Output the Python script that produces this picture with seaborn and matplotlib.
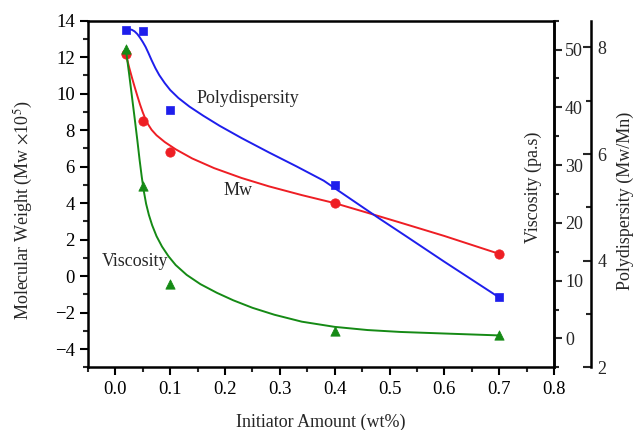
import matplotlib
matplotlib.use("Agg")
import matplotlib.pyplot as plt
from matplotlib.ticker import MultipleLocator
import seaborn as sns
import pandas as pd

# ---- data ----
initiator = [0.02, 0.05, 0.1, 0.4, 0.7]
mw_values = [12.16, 8.50, 6.79, 4.02, 1.21]
viscosity_values = [50.1, 26.4, 9.4, 1.26, 0.52]
poly_values = [8.32, 8.31, 6.83, 5.42, 3.31]

# fitted curves
mw_curve_x = [0.019, 0.025, 0.030, 0.035, 0.040, 0.045, 0.050, 0.055, 0.060, 0.066,
              0.075, 0.090, 0.110, 0.140, 0.180, 0.230, 0.280, 0.340, 0.400, 0.460,
              0.520, 0.600, 0.700]
mw_curve_y = [12.17, 11.45, 10.90, 10.38, 9.88, 9.40, 8.97, 8.60, 8.30, 8.02,
              7.72, 7.35, 6.95, 6.45, 5.92, 5.38, 4.92, 4.44, 4.00, 3.47,
              2.93, 2.20, 1.22]

visc_curve_x = [0.019, 0.025, 0.030, 0.035, 0.040, 0.044, 0.048, 0.052, 0.056, 0.061,
                0.067, 0.075, 0.085, 0.097, 0.110, 0.130, 0.155, 0.185, 0.215, 0.250,
                0.290, 0.340, 0.400, 0.460, 0.520, 0.600, 0.700]
visc_curve_y = [50.1, 45.8, 42.0, 38.2, 34.3, 31.0, 28.0, 25.4, 23.3, 21.4,
                19.6, 17.7, 15.9, 14.2, 12.7, 11.0, 9.4, 7.9, 6.6, 5.3,
                4.1, 2.9, 2.0, 1.45, 1.12, 0.85, 0.52]

poly_curve_x = [0.019, 0.025, 0.030, 0.035, 0.040, 0.045, 0.050, 0.055, 0.060, 0.066,
                0.073, 0.080, 0.090, 0.100, 0.115, 0.135, 0.160, 0.190, 0.230, 0.280,
                0.330, 0.380, 0.430, 0.480, 0.530, 0.600, 0.700]
poly_curve_y = [8.33, 8.34, 8.33, 8.30, 8.25, 8.18, 8.10, 8.01, 7.90, 7.76,
                7.61, 7.48, 7.33, 7.20, 7.05, 6.89, 6.72, 6.53, 6.30, 6.03,
                5.77, 5.50, 5.15, 4.80, 4.46, 3.98, 3.31]

x_ticks = [0.0, 0.1, 0.2, 0.3, 0.4, 0.5, 0.6, 0.7, 0.8]

RED = "#ee1e24"
BLUE = "#1e1eec"
GREEN = "#158a15"

sns.set_style("ticks")
plt.rcParams["font.family"] = ["Liberation Serif", "DejaVu Serif"]
plt.rcParams["mathtext.fontset"] = "stix"
plt.rcParams["axes.linewidth"] = 1.8

fig = plt.figure(figsize=(6.34, 4.30), dpi=100)
ax = fig.add_axes([0.1388, 0.1458, 0.735, 0.806])
ax2 = ax.twinx()
ax3 = ax.twinx()

pts = pd.DataFrame({"x": initiator, "mw": mw_values, "visc": viscosity_values, "poly": poly_values})
mwc = pd.DataFrame({"x": mw_curve_x, "y": mw_curve_y})
vc = pd.DataFrame({"x": visc_curve_x, "y": visc_curve_y})
pc = pd.DataFrame({"x": poly_curve_x, "y": poly_curve_y})

# Mw (left axis)
sns.lineplot(data=mwc, x="x", y="y", ax=ax, color=RED, lw=1.4, sort=False, estimator=None)
sns.scatterplot(data=pts, x="x", y="mw", ax=ax, color=RED, marker="o", s=45, edgecolor=RED, zorder=5)

# viscosity
sns.lineplot(data=vc, x="x", y="y", ax=ax2, color=GREEN, lw=1.4, sort=False, estimator=None)
sns.scatterplot(data=pts, x="x", y="visc", ax=ax2, color=GREEN, marker="^", s=45, edgecolor=GREEN, zorder=5)

# polydispersity
sns.lineplot(data=pc, x="x", y="y", ax=ax3, color=BLUE, lw=1.4, sort=False, estimator=None)
sns.scatterplot(data=pts, x="x", y="poly", ax=ax3, color=BLUE, marker="s", s=38, edgecolor=BLUE, zorder=5)

# axes limits / ticks
ax.set_xlim(-0.05, 0.8)
ax.set_ylim(-5, 14)
ax2.set_ylim(-5, 55)
ax3.set_ylim(2, 8.5)

ax.set_xticks(x_ticks)
ax.set_xticklabels([f"{t:.1f}" for t in x_ticks])
ax.xaxis.set_minor_locator(MultipleLocator(0.05))
ax.set_yticks(list(range(-4, 15, 2)))
ax.yaxis.set_minor_locator(MultipleLocator(1))
ax2.set_yticks([0, 10, 20, 30, 40, 50])
ax2.yaxis.set_minor_locator(MultipleLocator(5))
ax3.set_yticks([2, 4, 6, 8])
ax3.yaxis.set_minor_locator(MultipleLocator(1))

for a in (ax, ax2, ax3):
    for sp in a.spines.values():
        sp.set_linewidth(1.8)
        sp.set_color("black")

ax.tick_params(axis="both", which="major", direction="out", length=6, width=1.5,
               labelsize=13.5, colors="black", top=False, right=False)
ax.tick_params(axis="both", which="minor", direction="out", length=3.5, width=1.5,
               top=False, right=False)

ax2.spines["left"].set_visible(False)
ax2.spines["top"].set_visible(False)
ax2.spines["bottom"].set_visible(False)
ax2.tick_params(axis="y", which="major", direction="out", length=6, width=1.5, labelsize=13, pad=2)
ax2.tick_params(axis="y", which="minor", direction="out", length=3.5, width=1.5)

ax3.spines["left"].set_visible(False)
ax3.spines["top"].set_visible(False)
ax3.spines["bottom"].set_visible(False)
ax3.spines["right"].set_position(("axes", 1.0788))
ax3.tick_params(axis="y", which="major", direction="in", length=6, width=1.5, labelsize=13, pad=5)
ax3.tick_params(axis="y", which="minor", direction="in", length=3.5, width=1.5)

# labels
ax.set_xlabel("Initiator Amount (wt%)", fontsize=13)
ax.xaxis.set_label_coords(0.5, -0.135)
ax.set_ylabel(r"Molecular Weight (Mw $\times$10$^{5}$)", fontsize=13)
ax.yaxis.set_label_coords(-0.114, 0.454)
ax2.set_ylabel("Viscosity (pa.s)", fontsize=13)
ax2.yaxis.set_label_coords(0.938, 0.52)
ax3.set_ylabel("Polydispersity (Mw/Mn)", fontsize=13)
ax3.yaxis.set_label_coords(1.135, 0.48)

# curve annotations
ax.text(0.242, 9.75, "Polydispersity", fontsize=13, ha="center", va="center")
ax.text(0.224, 4.68, "Mw", fontsize=13, ha="center", va="center")
ax.text(0.036, 0.79, "Viscosity", fontsize=13, ha="center", va="center")

ax.grid(False)
ax2.grid(False)
ax3.grid(False)

fig.savefig("out.png", dpi=100, facecolor="white")
